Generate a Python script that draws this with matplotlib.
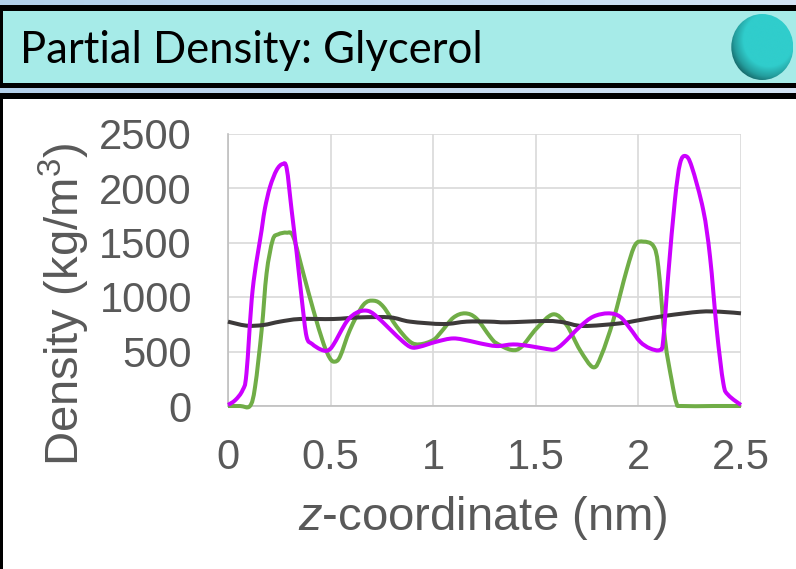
import matplotlib
matplotlib.use("Agg")
import matplotlib.pyplot as plt
from matplotlib.patches import Ellipse, Rectangle, PathPatch
from matplotlib.path import Path
import numpy as np

plt.rcParams['font.family'] = ['Liberation Sans', 'DejaVu Sans']
plt.rcParams['mathtext.fontset'] = 'custom'
plt.rcParams['mathtext.rm'] = 'Liberation Sans'
plt.rcParams['mathtext.it'] = 'Liberation Sans:italic'

W = 796
H = 569

title = "Partial Density: Glycerol"
x_ticks = [0, 0.5, 1, 1.5, 2, 2.5]
x_tick_labels = ["0", "0.5", "1", "1.5", "2", "2.5"]
y_ticks = [0, 500, 1000, 1500, 2000, 2500]

# valores
z_morado = [0, .036, .0715, .09, .12, .164, .18, .205, .237, .266, .286, .31, .335, .36, .383, .41, .45, .484, .513,
            .578, .627, .675, .716, .79, .853, .894, .935, 1.016, 1.098, 1.18, 1.228, 1.309, 1.39, 1.47, 1.553, 1.593,
            1.634, 1.715, 1.78, 1.853, 1.91, 1.959, 2.008, 2.056, 2.105, 2.121, 2.146, 2.178, 2.203, 2.23, 2.26, 2.316,
            2.349, 2.382, 2.414, 2.438, 2.5]
d_morado = [10, 55, 147, 300, 1064, 1615, 1813, 2012, 2165, 2220, 2180, 1798, 1400, 972, 636, 569, 520, 508, 560,
            774, 856, 875, 835, 703, 590, 538, 544, 590, 620, 596, 575, 550, 565, 550, 523, 520,
            575, 728, 820, 850, 820, 712, 590, 529, 514, 605, 1217, 1890, 2226, 2293, 2195, 1798,
            1370, 697, 208, 101, 10]

z_verde = [0, .059, .107, .132, .164, .188, .218, .245, .286, .318, .367, .416, .465, .497, .52, .546, .594, .659,
           .711, .757, .822, .887, .935, 1.0, 1.04, 1.098, 1.155, 1.21, 1.277, 1.309, 1.382, 1.431, 1.504, 1.585,
           1.65, 1.715, 1.78, 1.82, 1.878, 1.943, 1.984, 2.024, 2.073, 2.097, 2.13, 2.162, 2.186, 2.21, 2.365, 2.5]
d_verde = [0, 0, 0, 177, 697, 1217, 1523, 1575, 1590, 1553, 1217, 880, 575, 437, 407, 453, 697, 926,
           966, 911, 728, 590, 566, 605, 682, 810, 850, 804, 636, 575, 514, 544, 712, 841,
           743, 514, 355, 468, 789, 1248, 1477, 1508, 1468, 1278, 605, 238, 24, 0, 0, 0]

z_negro = [0, .09, .172, .253, .35, .513, .643, .79, .887, 1.05, 1.163, 1.277, 1.358, 1.553, 1.634, 1.73, 1.91,
           2.008, 2.137, 2.3, 2.397, 2.5]
d_negro = [774, 737, 743, 774, 798, 798, 813, 813, 774, 752, 774, 774, 768, 780, 768, 734, 758,
           789, 829, 865, 865, 850]


# linea suavizada como en excel: curvas bezier que pasan por cada punto
def linea_suave(ax, xs, ys, color, zorder):
    p = np.column_stack([xs, ys])
    t = np.zeros_like(p)
    t[1:-1] = (p[2:] - p[:-2]) / 6
    vertices = [p[0]]
    codigos = [Path.MOVETO]
    for i in range(len(p) - 1):
        vertices += [p[i] + t[i], p[i + 1] - t[i + 1], p[i + 1]]
        codigos += [Path.CURVE4, Path.CURVE4, Path.CURVE4]
    patch = PathPatch(Path(vertices, codigos), fill=False, edgecolor=color, lw=2.9,
                      capstyle="butt", joinstyle="round", clip_on=False, zorder=zorder)
    ax.add_patch(patch)


fig = plt.figure(figsize=(W / 100, H / 100), dpi=100, facecolor="white")

# marco de la diapositiva, en pixeles
bg = fig.add_axes([0, 0, 1, 1])
degradado = np.linspace(0, 1, 200).reshape(1, -1)
fondo = matplotlib.colors.LinearSegmentedColormap.from_list("fondo", ["#B3D0EA", "#D3E3F4"])
bg.imshow(degradado, extent=[0, W, 5, 0], cmap=fondo, aspect="auto")
bg.imshow(degradado, extent=[0, W, 93, 88], cmap=fondo, aspect="auto")
bg.add_patch(Rectangle((0, 5), W, 6, color="black", lw=0))
bg.add_patch(Rectangle((0, 11), W, 72, color="#A6EBE8", lw=0))
bg.add_patch(Rectangle((0, 83), W, 5, color="black", lw=0))
bg.add_patch(Rectangle((0, 93), W, 6, color="black", lw=0))
bg.add_patch(Rectangle((0, 5), 3, 83, color="black", lw=0))
bg.add_patch(Rectangle((0, 93), 3, H - 93, color="black", lw=0))
bg.text(20, 63, title, fontsize=31.4, family="Lato", color="black", va="baseline", ha="left")

# esfera, oscura abajo a la izquierda
cx, cy, rx, ry = 762.3, 47, 31, 33
gx, gy = np.meshgrid(np.linspace(-1, 1, 160), np.linspace(-1, 1, 160))
r = np.sqrt((gx - 0.22) ** 2 + (gy + 0.22) ** 2)
esfera = matplotlib.colors.LinearSegmentedColormap.from_list(
    "esfera", [(0, "#30CDCC"), (0.62, "#30CDCC"), (0.85, "#249E9E"), (1, "#176B6C")])
im = bg.imshow(np.clip(r / 1.31, 0, 1), extent=[cx - rx, cx + rx, cy + ry, cy - ry], cmap=esfera,
               vmin=0, vmax=1, aspect="auto", zorder=3)
clip = Ellipse((cx, cy), 2 * rx, 2 * ry, transform=bg.transData)
im.set_clip_path(clip)
bg.set_xlim(0, W)
bg.set_ylim(H, 0)
bg.axis("off")

# grafico
left, right, top, bottom = 228, 741, 133.5, 406
ax = fig.add_axes([left / W, 1 - bottom / H, (right - left) / W, (bottom - top) / H])
ax.patch.set_alpha(0)
linea_suave(ax, z_verde, d_verde, "#70AD47", 3)
linea_suave(ax, z_negro, d_negro, "#3D3A3A", 4)
linea_suave(ax, z_morado, d_morado, "#CC00FF", 5)
ax.set_xlim(0, 2.5)
ax.set_ylim(0, 2500)
ax.set_xticks(x_ticks)
ax.set_xticklabels(x_tick_labels)
ax.set_yticks(y_ticks)
ax.grid(True, color="#D9D9D9", lw=1.2)
ax.set_axisbelow(True)
ax.tick_params(length=0, labelsize=30, labelcolor="#595959")
ax.tick_params(axis="x", pad=23)
ax.tick_params(axis="y", pad=26)
for s in ["top", "right"]:
    ax.spines[s].set_visible(False)
for s in ["left", "bottom"]:
    ax.spines[s].set_color("#BFBFBF")
    ax.spines[s].set_linewidth(1.2)

pix = bg.transData
ax.set_xlabel(r"$\mathit{z}$-coordinate (nm)", fontsize=34, color="#595959")
ax.xaxis.set_label_coords(483, 518, transform=pix)
ax.xaxis.label.set_va("center")
ax.set_ylabel(r"Density (kg/m$^{3}$)", fontsize=34, color="#595959")
ax.yaxis.set_label_coords(64, 304, transform=pix)
ax.yaxis.label.set_va("center")

fig.savefig("out.png", dpi=100)
